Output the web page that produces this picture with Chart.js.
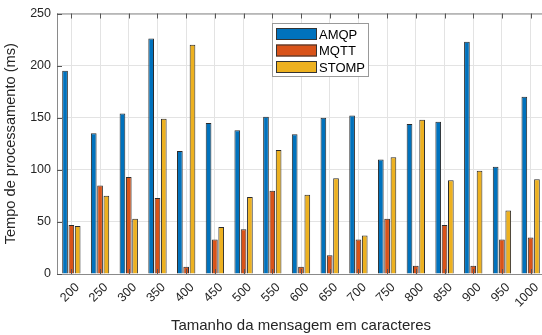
<!DOCTYPE html>
<html>
<head>
<meta charset="utf-8">
<script src="https://cdn.jsdelivr.net/npm/chart.js@4"></script>
<style>
  html, body { margin: 0; padding: 0; background: #fff; overflow: hidden; }
  #wrap { width: 542px; height: 335px; overflow: hidden; }
</style>
</head>
<body>
<div id="wrap"><canvas id="barChart" width="548" height="335"></canvas></div>
<script>
const categories = ['200', '250', '300', '350', '400', '450', '500', '550', '600', '650', '700', '750', '800', '850', '900', '950', '1000'];
const amqp = [195, 135, 154, 226, 118, 145, 138, 151, 134, 150, 152, 110, 144, 146, 223, 103, 170];
const mqtt = [47, 85, 93, 73, 7, 33, 43, 80, 7, 18, 33, 53, 8, 47, 8, 33, 35];
const stomp = [46, 75, 53, 149, 220, 45, 74, 119, 76, 92, 37, 112, 148, 90, 99, 61, 91];
const seriesNames = ['AMQP', 'MQTT', 'STOMP'];
const seriesColors = ['#0072BD', '#D95319', '#EDB120'];

const font = "'Liberation Sans', Arial, Helvetica, sans-serif";
const axisColor = '#8a8a8a';
const textColor = '#262626';

// MATLAB-like box, inner ticks and legend
const matlabBox = {
  id: 'matlabBox',
  afterDatasetsDraw(chart) {
    const { ctx, chartArea: a, scales } = chart;
    ctx.save();
    ctx.strokeStyle = axisColor;
    ctx.lineWidth = 1;
    ctx.beginPath();
    ctx.moveTo(a.left, a.top + 0.5);
    ctx.lineTo(a.right, a.top + 0.5);
    ctx.moveTo(a.right - 0.5, a.top);
    ctx.lineTo(a.right - 0.5, a.bottom);
    ctx.stroke();

    ctx.strokeStyle = '#555';
    ctx.beginPath();
    scales.x.ticks.forEach((t, i) => {
      const x = Math.round(scales.x.getPixelForTick(i)) + 0.5;
      ctx.moveTo(x, a.bottom);
      ctx.lineTo(x, a.bottom - 5);
      ctx.moveTo(x, a.top);
      ctx.lineTo(x, a.top + 5);
    });
    scales.y.ticks.forEach((t, i) => {
      const y = Math.round(scales.y.getPixelForTick(i)) + 0.5;
      ctx.moveTo(a.left, y);
      ctx.lineTo(a.left + 5, y);
    });
    ctx.stroke();

    // legend
    const lx = 272, ly = 23, lw = 96, lh = 53;
    ctx.fillStyle = '#fff';
    ctx.fillRect(lx, ly, lw, lh);
    ctx.strokeStyle = '#999';
    ctx.strokeRect(lx + 0.5, ly + 0.5, lw, lh);
    ctx.font = '13px ' + font;
    ctx.textBaseline = 'middle';
    seriesNames.forEach((name, i) => {
      const cy = ly + 11 + i * 16.5;
      ctx.fillStyle = seriesColors[i];
      ctx.fillRect(lx + 4, cy - 6, 41, 12);
      ctx.strokeStyle = '#333';
      ctx.strokeRect(lx + 4.5, cy - 5.5, 40, 11);
      ctx.fillStyle = '#000';
      ctx.fillText(name, lx + 47, cy + 1);
    });
    ctx.restore();
  }
};

const chartData = {
  labels: categories,
  datasets: [amqp, mqtt, stomp].map((values, i) => ({
    label: seriesNames[i],
    data: values,
    backgroundColor: seriesColors[i],
    borderColor: '#2b2b2b',
    borderWidth: 1,
    categoryPercentage: 0.66,
    barPercentage: 0.9,
  })),
};

const chartConfig = {
  type: 'bar',
  data: chartData,
  options: {
    responsive: false,
    animation: false,
    layout: { padding: { top: 13, right: 3, left: 0, bottom: 0 } },
    plugins: {
      legend: { display: false },
      tooltip: { enabled: false },
    },
    scales: {
      x: {
        grid: { color: '#e3e3e3', offset: false, drawTicks: false },
        border: { color: axisColor },
        ticks: {
          color: textColor,
          font: { family: font, size: 12.5 },
          maxRotation: 45,
          minRotation: 45,
          padding: 6,
          labelOffset: 6,
          autoSkip: false,
        },
        title: {
          display: true,
          text: 'Tamanho da mensagem em caracteres',
          color: textColor,
          font: { family: font, size: 15 },
          padding: { top: 0, bottom: 0 },
        },
        afterFit(scale) { scale.height = 61; },
      },
      y: {
        min: 0,
        max: 250,
        grid: { color: '#e3e3e3', drawTicks: false },
        border: { color: axisColor },
        ticks: {
          stepSize: 50,
          color: textColor,
          font: { family: font, size: 12.5 },
          padding: 6,
        },
        title: {
          display: true,
          text: 'Tempo de processamento (ms)',
          color: textColor,
          font: { family: font, size: 14.6 },
          padding: { top: 2, bottom: 0 },
        },
        afterFit(scale) { scale.width = 57; },
      },
    },
  },
  plugins: [matlabBox],
};

new Chart(document.getElementById('barChart'), chartConfig);
</script>
</body>
</html>
